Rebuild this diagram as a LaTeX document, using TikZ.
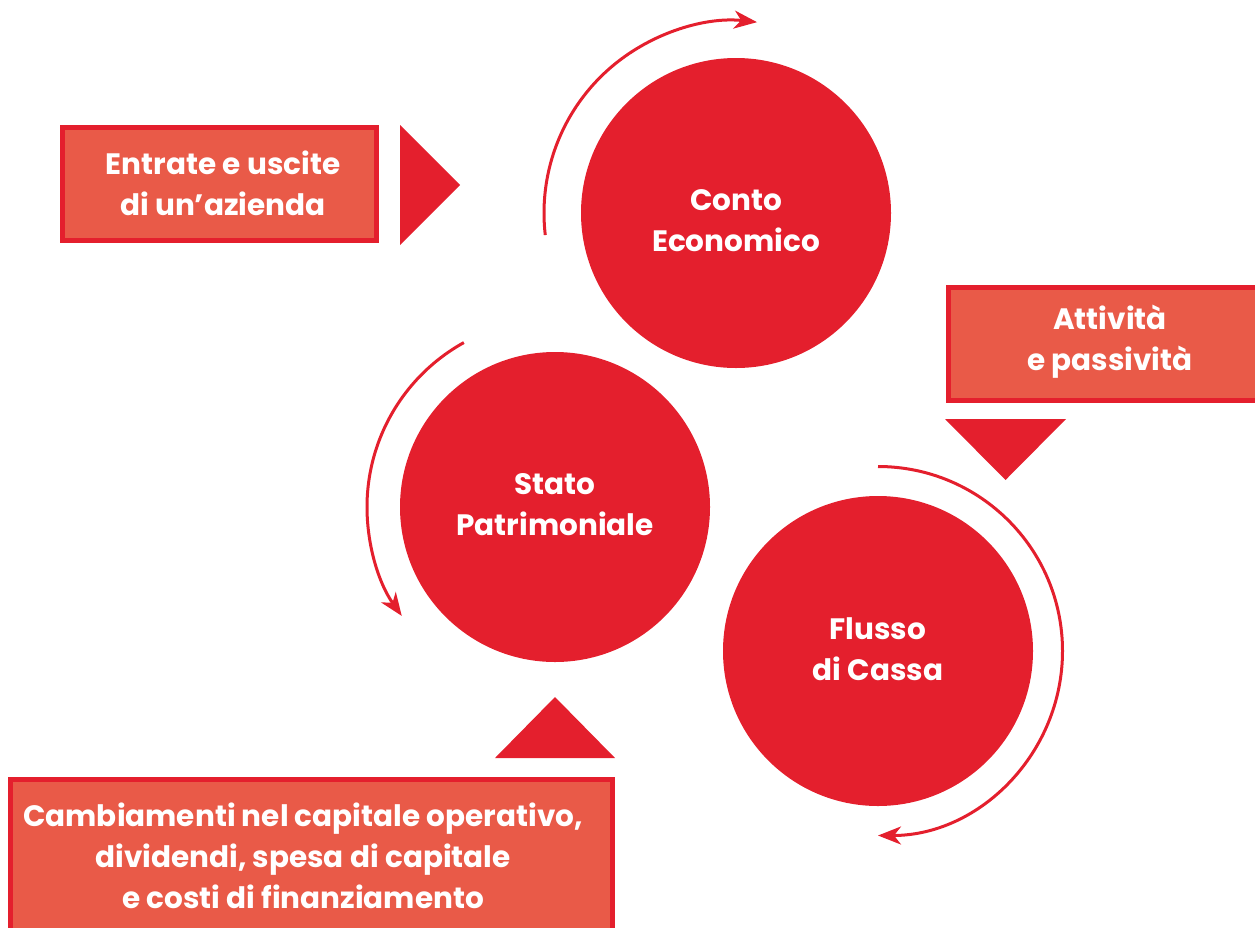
\documentclass[tikz,border=0pt]{standalone}
\usepackage{fontspec}
\setmainfont{Poppins}
\usetikzlibrary{arrows.meta,calc}
\definecolor{cred}{HTML}{E41F2D}
\definecolor{cbox}{HTML}{E95A48}
\begin{document}
\begin{tikzpicture}[x=1pt,y=-1pt,
  circ/.style={circle,fill=cred,minimum size=310pt,inner sep=0pt},
  ltxt/.style={text=white,align=center,inner sep=0pt,font=\fontsize{29.5}{41}\selectfont\bfseries},
  lbox/.style={fill=cbox,draw=cred,line width=5pt},
  tri/.style={fill=cred},
  cyc/.style={draw=cred,line width=3pt,-{Stealth[length=23pt,width=18pt,inset=7pt]}}]
\useasboundingbox (0,0) rectangle (1255,927);
\clip (0,0) rectangle (1255,927);
% circles
\node[circ] (ce) at (736,213) {};
\node[circ] (sp) at (555,507) {};
\node[circ] (fc) at (878,651) {};
\node[ltxt] (cet) at (736,221) {Conto\\Economico};
\node[ltxt] (spt) at (555,505) {Stato\\Patrimoniale};
\node[ltxt] (fct) at (878,649) {Flusso\\di Cassa};
% boxes
\draw[lbox] (62.5,127.5) rectangle (376.5,240.5);
\node[ltxt] (b1) at (223,183) {Entrate e uscite\\di un’azienda};
\draw[lbox] (948.5,287.5) rectangle (1280,400.5);
\node[ltxt] (b2) at (1110,342) {Attività\\e passività};
\draw[lbox] (10.5,779.5) rectangle (612.5,960);
\node[ltxt] (b3) at (303,856) {Cambiamenti nel capitale operativo,\\dividendi, spesa di capitale\\e costi di finanziamento};
% triangles
\fill[tri] (400,125) -- (460,185) -- (400,245) -- cycle;
\fill[tri] (945,419) -- (1066,419) -- (1005.5,480) -- cycle;
\fill[tri] (495,758) -- (615,758) -- (555,697) -- cycle;
% cycle arrows
\draw[cyc] ($(ce.center)+(173.4:192)$) arc[start angle=173.4,end angle=276.3,radius=192];
\draw[cyc] ($(sp.center)+(241:188)$) arc[start angle=241,end angle=144.6,radius=188];
\draw[cyc] ($(fc.center)+(-90:184.5)$) arc[start angle=-90,end angle=90,radius=184.5];
\end{tikzpicture}
\end{document}
